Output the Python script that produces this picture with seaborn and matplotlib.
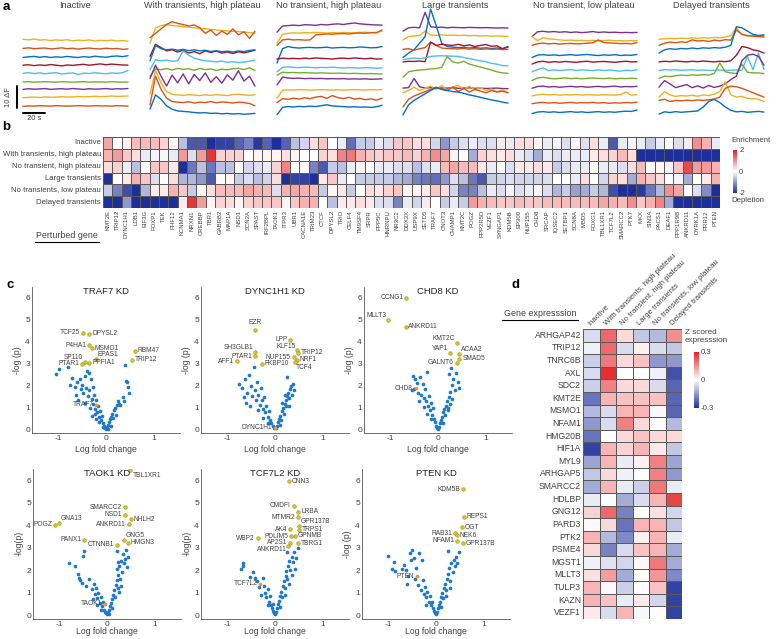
import numpy as np
import pandas as pd
import matplotlib
matplotlib.use("Agg")
import matplotlib.pyplot as plt
import seaborn as sns
from matplotlib.colors import LinearSegmentedColormap
from matplotlib.lines import Line2D

# ---------------- panel a: calcium traces (dF), sampled every 5 s ----------------
T = [0, 5, 10, 15, 20, 25, 30, 35, 40, 45, 50, 55, 60, 65, 70, 75, 80, 85, 90, 95]

A_TITLES = ["Inactive", "With transients, high plateau", "No transient, high plateau",
            "Large transients", "No transient, low plateau", "Delayed transients"]

INACTIVE = [
    [35.8, 35.5, 35.9, 35.4, 35.6, 35.2, 35.5, 35.3, 35.6, 35.1, 35.4, 35.2, 35.5, 35.0, 35.3, 35.1, 35.4, 35.0, 35.2, 34.9],
    [31.6, 31.9, 31.5, 31.7, 31.8, 31.4, 31.6, 31.9, 31.5, 31.7, 31.3, 31.6, 31.8, 31.5, 31.4, 31.7, 31.5, 31.6, 31.2, 31.4],
    [27.5, 27.8, 28.0, 27.6, 27.9, 27.5, 27.8, 27.6, 28.0, 27.7, 27.5, 27.9, 27.6, 28.1, 27.8, 27.6, 28.0, 28.2, 27.9, 28.3],
    [24.0, 24.2, 23.8, 24.1, 23.9, 24.3, 24.0, 23.7, 24.1, 23.9, 24.2, 24.4, 24.0, 24.3, 24.6, 24.2, 24.5, 24.3, 24.1, 24.0],
    [20.3, 20.6, 20.2, 20.5, 20.1, 20.4, 20.6, 20.0, 20.3, 20.5, 19.8, 20.4, 20.2, 20.6, 20.3, 20.1, 20.5, 20.3, 20.6, 21.6],
    [16.4, 16.5, 16.3, 16.4, 16.5, 16.4, 16.3, 16.5, 16.4, 16.3, 16.4, 16.5, 16.3, 16.4, 16.4, 16.3, 16.5, 16.4, 16.3, 16.4],
    [13.0, 13.3, 13.1, 13.2, 13.4, 13.0, 13.2, 13.3, 13.1, 13.4, 13.2, 13.0, 13.3, 13.1, 13.2, 13.4, 13.1, 13.3, 13.2, 13.4],
    [9.2, 9.4, 9.5, 9.3, 9.6, 9.4, 9.5, 9.7, 9.5, 9.6, 9.8, 9.6, 9.7, 9.9, 9.7, 9.8, 10.0, 9.8, 9.9, 10.0],
    [5.3, 5.5, 5.4, 5.6, 5.5, 5.4, 5.6, 5.5, 5.4, 5.5, 5.6, 5.5, 5.4, 5.6, 5.5, 5.5, 5.4, 5.6, 5.5, 5.4],
]
INACTIVE_C = ["y", "r", "b", "d", "c", "g", "p", "y", "r"]

WITH_TRANS = [
    [34, 41, 42, 42.5, 42, 41.8, 41.5, 41.3, 41, 40.8, 40.6, 40.2, 40, 39.8, 39.6, 39.4, 39.3, 39.1, 38.8, 38.5],
    [36.5, 38.5, 40.5, 42.5, 43.8, 43, 42.5, 41.8, 42.3, 41, 38.5, 40, 37.5, 39.5, 38, 40.5, 37.8, 39.2, 36.2, 39.5],
    [28, 33.5, 32, 30.5, 31, 30, 30.8, 29.5, 30.2, 29.2, 30.5, 29.8, 30.4, 29.5, 30, 29.3, 30.1, 29.6, 30.2, 30.8],
    [26, 33, 31.5, 31, 31.3, 30.8, 31.2, 30.6, 31, 30.5, 30.8, 30.2, 30.6, 30.1, 30.4, 30, 30.5, 30.2, 30.7, 31],
    [22, 26.5, 26, 26.3, 25.8, 26, 30.5, 28.5, 27.2, 26.5, 26, 25.8, 25.5, 25.9, 25.3, 25.6, 25.2, 25.4, 25.8, 26.3],
    [19, 22.3, 22, 22.5, 21.8, 22.6, 22.1, 22.4, 21.7, 22.5, 22, 22.3, 21.6, 22.2, 21.9, 22.4, 22.6, 22, 22.8, 21.6],
    [18, 24, 19, 14.5, 19.5, 16, 20, 15.5, 19.8, 17, 20.5, 16.2, 18.8, 15.8, 19.6, 17.2, 21.5, 16.8, 19, 14.5],
    [11, 21.5, 16, 12, 10.8, 10.5, 10.3, 10.6, 10.4, 10.2, 10.5, 10.3, 10.6, 10.4, 10.2, 10.6, 10.8, 10.5, 10.3, 10.6],
    [6, 19, 13, 9, 7.5, 7.2, 7, 7.4, 6.8, 7.2, 7, 7.5, 6.9, 7.3, 7.1, 6.8, 7.2, 7, 6.6, 5.5],
    [4, 10.5, 8.5, 5.5, 4, 3.2, 3, 2.8, 2.5, 2.3, 2.4, 2.1, 2.2, 1.9, 2.1, 1.8, 2, 1.7, 1.9, 2.1],
]
WITH_TRANS_C = ["y", "r", "d", "b", "c", "g", "p", "y", "r", "b"]

NO_TRANS_HIGH = [
    [39, 41.8, 42, 42.2, 42, 42.4, 42.3, 42.1, 42.5, 42.3, 42.6, 42.8, 42.5, 42.9, 43.2, 42.8, 42.6, 42.4, 42.3, 42.2],
    [34, 38, 38.5, 38.7, 38.6, 38.8, 38.7, 38.9, 38.8, 38.6, 38.8, 38.7, 38.9, 38.8, 38.7, 38.9, 39, 38.8, 39, 39.4],
    [33, 35.5, 35.8, 35.5, 35.6, 35.4, 35.5, 37.8, 38, 38.2, 38.1, 38.3, 38.4, 38.2, 38.5, 38.6, 38.5, 38.8, 38.7, 40],
    [25, 31.5, 32.5, 32, 31.8, 32, 32.1, 31.9, 32, 32.2, 31.8, 32, 32.1, 31.9, 32, 32.3, 32.1, 31.9, 32, 32.5],
    [26.8, 27.2, 27, 27.1, 26.9, 27.2, 27, 27.3, 27.1, 27, 26.8, 27.1, 27.2, 27, 27.3, 27.1, 26.9, 27.2, 26.8, 26.9],
    [21, 23, 23.2, 23, 22.9, 23.1, 23, 22.8, 23, 22.9, 23.1, 22.9, 22.7, 22.9, 22.8, 22.7, 22.9, 22.8, 22.6, 22.8],
    [19.5, 20.8, 20.6, 20.7, 20.5, 20.6, 20.5, 20.4, 20.5, 20.4, 20.3, 20.4, 20.3, 20.2, 20.3, 20.2, 20.1, 20.2, 20.1, 20.0],
    [15, 18.6, 18.2, 18, 18.1, 17.9, 18, 17.9, 18, 17.8, 17.9, 17.8, 17.9, 17.7, 17.8, 17.7, 17.8, 17.6, 17.7, 17.8],
    [9, 12.6, 12.8, 12.7, 12.9, 12.8, 12.7, 12.8, 12.9, 12.8, 12.7, 12.8, 12.7, 12.8, 12.9, 12.8, 12.7, 12.9, 12.8, 12.9],
    [7, 8.8, 8.5, 9, 8.6, 9.2, 8.8, 9.5, 9.8, 8.9, 10.2, 9.3, 8.8, 9.4, 8.6, 8.9, 8.3, 8.7, 8.1, 9.0],
    [1.5, 4.8, 5.2, 5, 5.3, 5.1, 5.4, 5.2, 5.6, 6, 5.5, 5.3, 5.2, 5, 5.1, 4.9, 5, 4.8, 5.1, 5.8],
]
NO_TRANS_HIGH_C = ["p", "y", "r", "b", "d", "c", "g", "p", "y", "r", "b"]

LARGE_TRANS = [
    [39.5, 41, 41.2, 41, 48, 41.5, 41.2, 41.3, 41, 41.2, 41.1, 41, 41.2, 41.1, 41, 41.1, 41, 40.9, 41, 40.9],
    [35.5, 37, 37.3, 37.5, 39.5, 37.8, 37.5, 37.8, 37.6, 37.7, 37.5, 37.6, 37.4, 37.5, 37.3, 37.4, 37.2, 37.3, 37.2, 37.1],
    [27.5, 29.5, 31, 34, 37, 49.5, 42, 34, 32.5, 32.2, 32, 32.1, 31.8, 32, 31.7, 31.9, 31.6, 31.8, 31.5, 32.5],
    [31.2, 31.5, 30.8, 31.5, 32, 34.5, 33, 31.8, 31.6, 31.5, 31.4, 31.6, 31.3, 31.5, 31.2, 31.4, 31.2, 31.3, 31.1, 31.2],
    [25.5, 25.8, 25.7, 25.9, 25.6, 34.5, 33, 33.5, 33.2, 33, 33.5, 32.8, 33.2, 32.5, 33, 33.4, 32.6, 32.8, 31.5, 32.2],
    [26.5, 27, 27.2, 27, 27.3, 28, 28.2, 28.3, 28.2, 28.1, 28, 27.5, 27, 26.5, 26, 25.6, 24.8, 24.5, 23.8, 23.8],
    [18.5, 21, 21.5, 21.8, 22, 22.3, 22.5, 23, 28, 25.5, 25, 25.8, 24.5, 23.8, 23.2, 22.5, 21.8, 21, 20.5, 20.3],
    [13.6, 13.8, 18, 14.2, 13.6, 13.8, 13.5, 13.7, 13.6, 13.8, 13.5, 13.6, 13.7, 13.5, 13.6, 13.4, 13.5, 13.6, 13.4, 13.3],
    [11.5, 12.5, 14, 12.5, 13.5, 14.5, 13, 14.8, 12.5, 14.2, 14.8, 13, 14.5, 12.8, 13.8, 12.5, 13.2, 12, 12.8, 11.5],
    [5, 8.5, 10, 11, 12, 13, 14, 13.2, 12.5, 14, 12, 13.5, 11.8, 13, 12.2, 11.5, 12.5, 11.8, 12.2, 11.5],
    [1.4, 6, 8, 9.5, 11, 12.5, 13.8, 13, 12.5, 12, 11.8, 11.2, 10.5, 10, 9.4, 8.8, 8.2, 7.8, 7.2, 6.8],
]
LARGE_TRANS_C = ["p", "y", "b", "r", "d", "c", "g", "p", "y", "r", "b"]

NO_TRANS_LOW = [
    [37, 39.2, 39.4, 39.1, 39.3, 39, 39.2, 38.9, 39.1, 38.8, 39, 39.3, 38.9, 39.1, 38.9, 39, 38.8, 38.9, 38.8, 38.9],
    [37, 35.2, 36.5, 36, 35.8, 35.5, 35.3, 35.4, 35.2, 35.3, 35.1, 35.3, 35.1, 35.2, 35.4, 35.1, 35.2, 35, 35.2, 35.1],
    [33, 33.8, 34, 33.7, 33.9, 33.6, 33.8, 33.9, 33.7, 33.8, 34, 34.2, 35.5, 34.3, 34.1, 34, 33.8, 33.9, 33.7, 34.3],
    [27.5, 28.6, 28.8, 28.5, 28.7, 28.4, 28.6, 28.8, 28.5, 28.7, 28.9, 28.6, 28.4, 28.7, 28.5, 28.8, 28.4, 28.6, 28.5, 28.9],
    [24.5, 25.5, 25.8, 25.3, 25.6, 25.4, 25.7, 25.5, 25.3, 25.6, 25.8, 25.4, 25.6, 25.7, 25.5, 25.3, 25.6, 25.8, 25.5, 25.6],
    [21, 22, 22.8, 21.5, 21.9, 21.6, 21.8, 22, 21.6, 21.9, 21.7, 21.5, 21.9, 21.6, 21.8, 21.5, 21.3, 21.7, 21.5, 21.9],
    [17, 18.2, 18.5, 18.1, 17.8, 18, 18.2, 17.9, 18.1, 17.8, 18, 18.2, 18, 17.9, 18.1, 17.8, 18, 17.9, 18.1, 17.9],
    [13.5, 14.3, 14.5, 14.1, 14.3, 14, 14.2, 14.4, 14.1, 14.3, 14, 14.2, 14.4, 14.1, 14.3, 14.5, 14.1, 14.3, 14.2, 14.4],
    [10, 10.6, 10.8, 10.5, 10.7, 10.4, 10.6, 10.5, 10.7, 10.4, 10.6, 10.5, 10.4, 10.6, 10.5, 10.4, 10.6, 11.8, 10.4, 10.6],
    [6.5, 6.9, 7.1, 6.8, 7, 6.7, 6.9, 7.1, 6.8, 7, 6.9, 7.1, 6.8, 7, 6.7, 6.9, 6.8, 7, 6.9, 7.2],
    [2, 2.7, 2.9, 2.6, 2.8, 2.5, 2.7, 2.9, 2.6, 2.8, 2.5, 2.7, 2.9, 2.6, 2.8, 2.6, 2.9, 3.1, 3, 3.6],
]
NO_TRANS_LOW_C = ["p", "y", "r", "b", "d", "c", "g", "p", "y", "r", "b"]

DELAYED = [
    [35.8, 36, 36.2, 36, 36.3, 36.1, 36.4, 36.2, 36.5, 36.3, 36.6, 36.5, 36.8, 37.5, 41, 38, 37.2, 37.4, 37, 37.3],
    [33, 34, 34.5, 34.2, 34.6, 34.4, 35.5, 35, 35.2, 34.8, 35.4, 35.1, 35.6, 35.4, 40, 38, 37.5, 37.2, 37, 36.8],
    [29.5, 31, 31.5, 31.2, 31.6, 31.4, 31.8, 31.5, 31.9, 31.7, 32, 31.8, 32.2, 33, 41.5, 41, 39.5, 38, 37.5, 37.8],
    [25.5, 25.8, 25.6, 25.9, 25.7, 25.5, 25.8, 25.6, 25.9, 25.7, 25.5, 25.8, 25.6, 26, 28.5, 32.5, 32, 31, 30.5, 29.5],
    [21.5, 22, 21.8, 21.9, 21.7, 21.8, 21.9, 21.7, 21.8, 21.6, 21.7, 21.8, 21.6, 21.7, 21.8, 21.6, 28, 22, 29.5, 22],
    [18, 19, 18.8, 19.2, 19.5, 19.3, 19.6, 19.4, 19.7, 19.5, 20.2, 25, 21, 20.5, 20.2, 24.5, 20.8, 20.5, 20.5, 20.2],
    [14, 17, 15.5, 13.8, 14.5, 15.2, 13.8, 14.6, 13.6, 14.8, 13.9, 14.5, 15.5, 17.5, 19, 26, 28.5, 29, 28, 24],
    [9.5, 12, 10.5, 9.8, 10.2, 10, 10.3, 9.9, 10.5, 10.2, 10.8, 12, 16.5, 10.5, 9.5, 9.8, 9, 8.8, 8.5, 7.5],
    [8, 8.5, 7.5, 8, 7.8, 8.1, 7.9, 8.2, 8, 8.3, 8.6, 9.5, 13.5, 14.5, 14.2, 13.5, 12.5, 11.5, 10.5, 9.5],
    [1.8, 2.8, 2.5, 2.9, 2.6, 2.8, 3, 3.2, 5, 7.5, 8.5, 7, 5, 3.5, 2.8, 3, 2.6, 2.8, 3, 2.7],
]
DELAYED_C = ["y", "r", "b", "d", "c", "g", "p", "y", "r", "b"]

TRACE_COLORS = {"b": "#0072BD", "r": "#D95319", "y": "#EDB120", "p": "#7E2F8E",
                "g": "#77AC30", "c": "#4DBEEE", "d": "#A2142F"}

# ---------------- panel b: enrichment heatmap ----------------
B_ROWS = ["Inactive", "With transients, high plateau", "No transient, high plateau",
          "Large transients", "No transients, low plateau", "Delayed transients"]
B_GENES = ["KMT2E", "TRIP12", "DYNC1H1", "LDB1", "EIF3G", "FOXP1", "TEK", "PHF12", "KCNMA1", "NRXN1",
           "CREBBP", "TBR1", "GABRB2", "MAP1A", "NSD1", "SCN2A", "SPAST", "IRF2BPL", "TAOK1", "ITPR3",
           "UBR1", "CACNA1E", "TRIM23", "CTCF", "DPYSL2", "TRIO", "CELF4", "TM9SF4", "SRPR", "PPP5C",
           "HNRNPU", "NR3C2", "DDX3X", "USP9X", "SETD5", "TRAF7", "CNOT3", "CHAMP1", "KMT2C", "POGZ",
           "PPP2R5D", "VEZF1", "SYNGAP1", "KDM5B", "EP300", "NUP155", "CHD8", "SRCAP", "IQSEC2", "SETBP1",
           "SCN8A", "MBD5", "FOXG1", "TBL1XR1", "TCF7L2", "SMARCC2", "PTK7", "MKX", "SIN3A", "PACS1",
           "DEAF1", "PPP1R9B", "ANKRD11", "DYRK1A", "PRR12", "PTEN"]
B_INACTIVE = [0.8, 0, 0.1, 0.6, 0.6, 0.6, 0.4, 0.1, -0.6, -1.6, -1.6, -2, -1.8, -1.8, -1.5, -1.2,
              -1.9, -1.5, -2, -1.5, -0.6, -0.4, 0.3, 0.5, 0, -0.2, -1.4, -0.5, -0.5, -0.2, -0.3, 0.5,
              0.5, 0.3, 0.3, -0.4, -1.0, -0.5, -0.3, -0.2, -0.3, -0.3, 0.2, -0.2, 0.3, 0.3, 0.1, -0.2,
              -0.1, -0.3, 0.1, -0.3, 0.3, -0.2, -1.6, -0.2, -0.1, -0.2, -0.5, -0.2, 0, -0.3, 0.2, 1.0, 0.7, -0.2]
B_WITH_TRANS = [0.7, 0.9, 0.5, 0.3, -0.2, -0.1, -0.1, -0.2, 0.9, -0.3, 0.9, 1.8, 0.4, 0.4, 0.4, 0,
                0.1, 0.1, 0.1, 0.3, 0.1, 0, 0, 0.4, 0.3, 1.1, 1.2, 0.7, 0.5, 0.4, 0.5, 0.5,
                0.6, 0.4, 0.7, 1.0, 0.8, 0.1, 0, -0.8, 0.4, 0.3, 0.2, 0.3, -0.2, -0.3, -0.8, -0.2,
                -0.3, -0.2, -0.2, -0.2, 0.2, 0.3, 0.4, 0.6, 0.3, -2, -2, -2, -2, -2, -2, -2, -2, -2]
B_NO_TRANS_HIGH = [0.3, 0.4, -0.2, -0.6, 0, 0.5, 0.5, 0.2, -2, -1.3, -0.6, -1.3, -0.6, -0.6, 0, -0.4,
                   -0.3, -0.2, 0.4, 1.1, 0, 0, -1.2, -1.6, -0.5, -0.6, -0.2, 0.1, 0, -0.2, -0.2, -0.3,
                   -0.3, -0.6, -0.3, -0.2, 0.6, 0.8, 0.6, 0.6, 0.2, -0.2, 0, -0.3, 0.2, 0.2, 0.3, 0.2,
                   -0.5, -0.3, -0.2, -0.2, 0, -0.2, -0.2, -0.3, 0.3, 0.6, 0, 0.1, -0.1, 0.5, 1.6, 0.9, 0.9, 0.7]
B_LARGE_TRANS = [-2, 0, 0.2, 0.7, 0.5, -0.3, 0, 0.3, -0.7, -0.7, -1.0, -1.6, 0, 0.1, -0.5, -0.3,
                 -0.6, -0.4, 0.3, -2, -1.8, -1.8, -2, 0.2, 0.5, -0.2, 0, -0.5, -0.5, -0.5, -0.5, -0.7,
                 -0.8, -1.2, -1.3, -1.4, -1.0, -0.3, -0.6, -1.3, -1.6, -0.5, -0.4, -0.3, -0.4, -0.4, -0.4, -0.3,
                 0, 0, -0.2, 0.3, 0, -0.4, 0.4, 0.3, -0.8, 0.7, 0.5, 0.3, 0, -0.1, -0.8, 0, 0.2, 0.7]
B_NO_TRANS_LOW = [-0.5, -1.2, -1.7, -2, -0.7, 0.2, 0.2, 0.7, 0.5, -0.5, 0.1, 0.3, 0.6, 0.6, 0.6, 0.8,
                  0.7, 0.6, -0.3, 0.7, 0.8, 0.7, 0.6, -0.5, 0.1, 0.2, -0.5, 0, 0.3, 0.2, 0.4, 0.5,
                  0.1, 0.1, 0.2, 0.5, 0.3, -0.4, -1.2, -1.2, -0.6, -0.2, -0.3, -0.1, -0.3, -0.2, -0.1, -0.3,
                  -0.7, -0.5, -0.9, -0.8, -0.5, -0.7, -1.7, -2, -2, -1.9, -1.3, -0.7, 1.0, 0.8, 0, -0.3, -1.1, -2]
B_DELAYED = [-2, -2, -1.0, -2, -2, -2, -2, -2, 0.2, 1.8, 0.9, 0.1, 0.4, 0.3, 0.1, 0.4,
             0.5, 0.5, 0.5, 0.1, 0.5, 0.7, 0.7, 0, -0.6, 0.2, 0.2, 0.3, 0.2, -0.3, -0.3, -1.2,
             -0.2, -0.4, 0.2, 0, -0.5, -0.2, -0.5, 0.9, 0.7, 0.6, 0.5, 0.5, 0.6, 0.5, 0.5, 0.6,
             0.6, 0.6, 0.6, 0.6, 0.6, 0.8, 0.7, 0.6, 1.0, 0.5, 0.7, 1.1, -0.8, -2, -2, -2, -2, -2]

# ---------------- panel c: volcano plots (log fold change, -log p) ----------------
TRAF7_PTS = [(-1.05, 2.55), (-0.98, 2.78), (-0.8, 2.85), (-0.75, 2.05), (-0.72, 2.35), (-0.65, 1.95),
             (-0.6, 2.2), (-0.55, 2.3), (-0.52, 1.85), (-0.5, 2.05), (-0.48, 1.7), (-0.45, 2.45),
             (-0.42, 1.9), (-0.4, 2.7), (-0.38, 1.55), (-0.36, 2.6), (-0.35, 1.8), (-0.32, 2.3),
             (-0.3, 1.4), (-0.28, 1.95), (-0.27, 1.2), (-0.25, 1.6), (-0.22, 0.95), (-0.2, 1.35),
             (-0.18, 0.8), (-0.16, 1.1), (-0.14, 0.6), (-0.12, 0.85), (-0.1, 0.45), (-0.08, 0.65),
             (-0.06, 0.3), (-0.04, 0.2), (-0.02, 0.1), (0, 0.05), (0.02, 0.12), (0.04, 0.25),
             (0.06, 0.35), (0.08, 0.5), (0.1, 0.6), (0.12, 0.75), (0.14, 0.55), (0.16, 0.9),
             (0.18, 1.0), (0.2, 0.7), (0.22, 1.15), (0.25, 1.3), (0.28, 1.2), (0.3, 1.15),
             (0.35, 1.5), (0.38, 1.3), (0.4, 2.95), (0.42, 2.25), (0.45, 2.2), (0.47, 1.95),
             (0.48, 1.7), (-0.62, 1.6), (-0.58, 1.35), (-0.44, 1.25), (-0.33, 1.0), (-0.24, 0.75),
             (-0.15, 0.35), (-0.07, 0.15), (0.05, 0.05), (0.1, 0.2), (-0.3, 0.65), (-0.2, 0.5)]
TRAF7_HITS = [("TCF25", -0.48, 4.42), ("DPYSL2", -0.35, 4.38), ("P4HA1", -0.35, 3.85),
              ("MSMO1", -0.3, 3.72), ("SP110", -0.45, 3.1), ("EPAS1", -0.2, 3.25),
              ("PTAR1", -0.5, 3.02), ("PPFIA1", -0.35, 3.05), ("RBM47", 0.6, 3.6), ("TRIP12", 0.55, 3.2)]
TRAF7_SIDE = ["l", "r", "l", "r", "ul", "ur", "l", "r", "r", "r"]
TRAF7_KD = ("TRAF7", -0.2, 1.15)

DYNC_PTS = [(-0.75, 2.1), (-0.7, 1.9), (-0.62, 2.3), (-0.58, 1.7), (-0.55, 2.5), (-0.5, 2.0),
            (-0.48, 1.55), (-0.45, 2.85), (-0.42, 1.8), (-0.4, 1.35), (-0.38, 2.2), (-0.35, 1.6),
            (-0.32, 1.15), (-0.3, 1.9), (-0.28, 1.35), (-0.25, 0.95), (-0.22, 1.5), (-0.2, 0.8),
            (-0.18, 1.1), (-0.15, 0.6), (-0.12, 0.85), (-0.1, 0.45), (-0.08, 0.3), (-0.05, 0.2),
            (-0.03, 0.1), (0.02, 0.08), (0.04, 0.2), (0.06, 0.35), (0.08, 0.5), (0.1, 0.65),
            (0.12, 0.45), (0.14, 0.85), (0.16, 1.0), (0.18, 0.75), (0.2, 1.2), (0.22, 1.35),
            (0.24, 1.1), (0.26, 1.55), (0.28, 1.7), (0.3, 1.45), (0.32, 1.85), (0.34, 2.0),
            (0.36, 1.6), (0.38, 2.1), (0.26, 2.4), (0.2, 1.6), (0.15, 1.25), (-0.65, 1.5),
            (-0.6, 1.25), (-0.52, 1.1), (-0.35, 0.9), (-0.25, 0.55), (-0.15, 0.3), (0.1, 0.25),
            (0.3, 1.1), (0.4, 1.8)]
DYNC_HITS = [("EZR", -0.41, 4.55), ("SH3GLB1", -0.42, 3.55), ("PTAR1", -0.42, 3.35), ("AFF1", -0.8, 3.12),
             ("FKBP10", -0.27, 3.02), ("LPP", 0.32, 4.1), ("KLF15", 0.47, 3.62), ("TRIP12", 0.49, 3.52),
             ("NUP155", 0.39, 3.3), ("NRF1", 0.46, 3.2), ("TCF4", 0.41, 3.08)]
DYNC_SIDE = ["t", "ul", "l", "l", "r", "l", "ul", "r", "l", "r", "b"]
DYNC_KD = ("DYNC1H1", 0.0, 0.1)

CHD8_PTS = [(-0.52, 2.45), (-0.48, 2.3), (-0.45, 2.15), (-0.42, 1.7), (-0.38, 2.4), (-0.35, 1.6),
            (-0.32, 2.1), (-0.3, 1.45), (-0.28, 1.85), (-0.25, 1.3), (-0.22, 2.65), (-0.2, 1.1),
            (-0.18, 1.55), (-0.16, 0.9), (-0.14, 1.25), (-0.12, 0.7), (-0.1, 1.0), (-0.08, 0.5),
            (-0.06, 0.35), (-0.04, 0.2), (-0.02, 0.1), (0, 0.05), (0.02, 0.15), (0.04, 0.3),
            (0.06, 0.45), (0.08, 0.6), (0.1, 0.8), (0.12, 0.95), (0.14, 0.7), (0.16, 1.1),
            (0.18, 1.3), (0.2, 1.0), (0.22, 1.5), (0.24, 2.55), (0.26, 1.75), (0.28, 2.8),
            (0.3, 2.05), (0.32, 2.3), (0.35, 1.8), (0.38, 2.6), (0.42, 2.2), (0.45, 1.9),
            (0.3, 1.4), (0.2, 0.9), (-0.3, 1.05), (-0.4, 1.3), (-0.5, 1.85), (-0.55, 1.8),
            (-0.15, 0.5), (0.1, 0.3), (-0.22, 0.75), (0.25, 1.2)]
CHD8_HITS = [("CCNG1", -0.66, 6.0), ("MLLT3", -1.05, 5.0), ("ANKRD11", -0.68, 4.7), ("KMT2C", 0.39, 3.97),
             ("YAP1", 0.25, 3.5), ("ACAA2", 0.45, 3.45), ("SMAD5", 0.45, 3.25), ("GALNT6", 0.39, 3.05)]
CHD8_SIDE = ["l", "ul", "r", "ul", "ul", "ur", "r", "l"]
CHD8_KD = ("CHD8", -0.47, 1.9)

TAOK1_PTS = [(-0.8, 2.3), (-0.68, 2.2), (-0.6, 1.85), (-0.58, 1.65), (-0.56, 1.55), (-0.52, 1.45),
             (-0.5, 2.65), (-0.48, 2.85), (-0.45, 1.3), (-0.38, 1.6), (-0.32, 1.15), (-0.28, 1.4),
             (-0.25, 0.95), (-0.22, 1.2), (-0.2, 0.75), (-0.18, 1.0), (-0.15, 0.55), (-0.12, 0.8),
             (-0.1, 0.4), (-0.08, 0.6), (-0.06, 0.25), (-0.04, 0.15), (-0.02, 0.08), (0, 0.05),
             (0.02, 0.12), (0.04, 0.25), (0.06, 0.4), (0.08, 0.55), (0.1, 0.7), (0.12, 0.9),
             (0.14, 1.1), (0.16, 0.8), (0.18, 1.35), (0.2, 1.55), (0.2, 2.05), (0.22, 1.2),
             (0.24, 1.8), (0.26, 2.2), (0.28, 1.6), (0.3, 2.4), (0.32, 1.9), (0.34, 2.7),
             (0.36, 2.3), (0.38, 2.5), (0.4, 2.9), (0.45, 2.6), (0.42, 2.15), (0.3, 1.3),
             (0.25, 1.05), (-0.3, 0.7), (-0.2, 0.45), (-0.12, 0.25), (0.1, 0.3), (0.05, 0.05),
             (0.2, 2.85), (0.22, 2.35)]
TAOK1_HITS = [("TBL1XR1", 0.48, 6.45), ("SMARCC2", 0.375, 4.8), ("NSD1", 0.38, 4.47), ("NHLH2", 0.5, 4.27),
              ("ANKRD11", 0.46, 4.04), ("GNG5", 0.36, 3.36), ("HMGN3", 0.44, 3.21), ("CTNNB1", 0.2, 3.12),
              ("PANX1", -0.48, 3.35), ("GNA13", -1.01, 4.09), ("POGZ", -1.08, 4.03)]
TAOK1_SIDE = ["br", "l", "l", "r", "l", "ur", "r", "l", "l", "ur", "l"]
TAOK1_KD = ("TAOK1", -0.04, 0.5)

TCF_PTS = [(-0.72, 2.05), (-0.68, 2.2), (-0.66, 2.3), (-0.52, 1.7), (-0.46, 1.9), (-0.42, 1.65),
           (-0.38, 1.5), (-0.34, 1.25), (-0.25, 1.65), (-0.22, 1.3), (-0.2, 1.0), (-0.18, 0.8),
           (-0.15, 1.15), (-0.12, 0.6), (-0.1, 0.85), (-0.08, 0.45), (-0.06, 0.3), (-0.04, 0.2),
           (-0.02, 0.1), (0, 0.05), (0.02, 0.15), (0.04, 0.3), (0.06, 0.5), (0.08, 0.65),
           (0.1, 0.85), (0.12, 1.05), (0.14, 0.8), (0.16, 1.3), (0.18, 1.5), (0.2, 1.2),
           (0.22, 1.75), (0.24, 1.95), (0.26, 1.6), (0.28, 2.2), (0.3, 2.4), (0.32, 2.0),
           (0.35, 2.6), (0.38, 2.35), (0.4, 2.8), (0.45, 2.55), (0.48, 3.0), (0.42, 2.05),
           (0.3, 1.4), (0.2, 0.9), (-0.3, 0.9), (-0.15, 0.45), (0.1, 0.35), (-0.05, 0.5),
           (0.25, 2.8), (0.36, 1.8)]
TCF_HITS = [("CNN3", 0.29, 5.95), ("CMDFI", 0.39, 4.87), ("LRBA", 0.49, 4.6), ("MTMR2", 0.48, 4.35),
            ("GPR137B", 0.51, 3.98), ("TRPS1", 0.51, 3.8), ("AK4", 0.31, 3.82), ("GPNMB", 0.42, 3.52),
            ("PDLIM5", 0.33, 3.5), ("AP2S1", 0.31, 3.22), ("ANKRD11", 0.27, 3.06), ("TBRG1", 0.48, 3.2),
            ("WBP2", -0.36, 3.43)]
TCF_SIDE = ["r", "l", "r", "l", "ur", "r", "l", "r", "l", "l", "lb", "r", "l"]
TCF_KD = ("TCF7L2", -0.31, 1.4)

PTEN_PTS = [(-1.0, 2.65), (-0.92, 2.05), (-0.88, 2.35), (-0.85, 1.95), (-0.72, 2.05), (-0.66, 2.25),
            (-0.62, 2.0), (-0.58, 1.75), (-0.55, 2.75), (-0.52, 2.45), (-0.5, 2.9), (-0.46, 2.55),
            (-0.42, 2.1), (-0.38, 1.35), (-0.35, 2.75), (-0.3, 2.45), (-0.32, 1.1), (-0.28, 1.55),
            (-0.25, 0.95), (-0.22, 1.25), (-0.2, 0.8), (-0.18, 1.05), (-0.15, 0.6), (-0.12, 0.85),
            (-0.1, 0.45), (-0.08, 0.6), (-0.06, 0.3), (-0.04, 0.2), (-0.02, 0.1), (0, 0.05),
            (0.02, 0.15), (0.04, 0.3), (0.06, 0.45), (0.08, 0.6), (0.1, 0.8), (0.12, 1.0),
            (0.14, 0.75), (0.16, 1.2), (0.18, 1.4), (0.2, 1.1), (0.22, 1.6), (0.25, 1.85),
            (0.28, 2.1), (0.3, 1.5), (0.32, 2.3), (0.35, 1.9), (0.38, 2.45), (0.4, 2.2),
            (0.42, 2.6), (0.45, 2.3), (0.48, 2.8), (0.3, 1.2), (0.2, 0.85), (-0.45, 1.6),
            (-0.6, 1.4), (-0.2, 0.45), (0.1, 0.35), (0.26, 2.85)]
PTEN_HITS = [("KDM5B", 0.56, 5.6), ("REPS1", 0.58, 4.38), ("OGT", 0.54, 3.9), ("RAB31", 0.39, 3.64),
             ("NEK6", 0.43, 3.55), ("NFAM1", 0.44, 3.3), ("GPR137B", 0.57, 3.2)]
PTEN_SIDE = ["l", "r", "r", "l", "r", "l", "r"]
PTEN_KD = ("PTEN", -0.4, 1.72)

# ---------------- panel d: z scored expression ----------------
D_COLS = ["Inactive", "With transients, high plateau", "No transient, high plateau",
          "Large transients", "No transients, low plateau", "Delayed transients"]
D_GENES = ["ARHGAP42", "TRIP12", "TNRC6B", "AXL", "SDC2", "KMT2E", "MSMO1", "NFAM1", "HMG20B", "HIF1A",
           "MYL9", "ARHGAP5", "SMARCC2", "HDLBP", "GNG12", "PARD3", "PTK2", "PSME4", "MGST1", "MLLT3",
           "TULP3", "KAZN", "VEZF1"]
D_VALUES = [
    [-0.05, 0.2, 0.05, -0.08, -0.1, 0.15],
    [-0.02, 0.2, -0.05, 0.02, -0.05, -0.08],
    [-0.07, 0.18, 0.05, 0.08, -0.15, -0.15],
    [-0.05, 0.28, 0, 0, -0.02, -0.25],
    [-0.07, 0.17, 0.05, 0.05, -0.05, -0.22],
    [-0.2, 0.1, 0.08, 0.08, 0.08, -0.22],
    [-0.1, -0.05, 0.1, 0.1, -0.01, -0.22],
    [-0.15, -0.05, 0.17, 0.05, 0, -0.1],
    [-0.2, 0, 0.05, 0.08, 0.05, 0.05],
    [-0.27, 0.1, 0.06, 0.1, 0.03, -0.08],
    [-0.13, 0.1, -0.03, 0.02, 0.17, -0.13],
    [-0.08, 0.05, -0.02, 0, 0.17, -0.15],
    [-0.12, 0.1, -0.03, -0.07, 0.18, -0.03],
    [-0.03, 0, -0.12, -0.05, 0.1, 0.25],
    [0.06, 0.2, -0.18, 0, 0.04, -0.06],
    [0.01, 0.05, -0.2, 0.1, 0.1, -0.08],
    [0.1, -0.1, -0.17, 0.02, 0.1, -0.03],
    [0.05, -0.18, -0.05, 0.08, 0.1, -0.12],
    [-0.02, -0.04, -0.06, 0.01, 0.18, -0.12],
    [0.04, 0.13, -0.12, 0, 0.14, -0.17],
    [0.1, 0.01, -0.07, 0, 0.08, -0.27],
    [0.1, 0.08, -0.03, 0.03, -0.06, -0.27],
    [0.03, -0.05, 0.1, -0.01, 0, -0.27],
]

W, H = 779, 639
TXT = "#404040"


def rect(x0, y0, x1, y1):
    # pixel box (top-left origin) -> figure fraction
    return [x0 / W, 1 - y1 / H, (x1 - x0) / W, (y1 - y0) / H]


def ftext(x, y, s, **kw):
    kw.setdefault("color", TXT)
    return fig.text(x / W, 1 - y / H, s, **kw)


def fline(x0, x1, y0, y1, **kw):
    fig.add_artist(Line2D([x0 / W, x1 / W], [1 - y0 / H, 1 - y1 / H], transform=fig.transFigure, **kw))


OFFS = {"l": (-2, 0, "right", "center"), "r": (2, 0, "left", "center"),
        "ul": (-1, 0.5, "right", "bottom"), "ur": (1, 0.5, "left", "bottom"),
        "lb": (-1, 0, "right", "top"),
        "t": (0, 2.5, "center", "bottom"), "b": (1, -1.5, "left", "top"),
        "br": (2, -1.5, "left", "top")}


def volcano(ax, title, pts, hits, sides, kd, ylab, label_px):
    df = pd.DataFrame(pts, columns=["lfc", "nlp"])
    sns.scatterplot(data=df, x="lfc", y="nlp", color="#1f78c8", s=7, linewidth=0, ax=ax, zorder=2)
    hx = [h[1] for h in hits]
    hy = [h[2] for h in hits]
    sns.scatterplot(x=hx, y=hy, color="#d9c41c", edgecolor="#8c7d10", linewidth=0.3, s=7, ax=ax, zorder=3)
    ax.scatter([kd[1]], [kd[2]], color="#ff8f1f", s=7, linewidth=0, zorder=4)
    for (name, x, y), sd in zip(hits, sides):
        dx, dy, ha, va = OFFS[sd]
        ax.annotate(name, (x, y), xytext=(dx, dy), textcoords="offset points",
                    ha=ha, va=va, fontsize=4.8, color=TXT)
    ax.annotate(kd[0], (kd[1], kd[2]), xytext=(-2, 0), textcoords="offset points",
                ha="right", va="center", fontsize=4.8, color=TXT)
    ax.set_xlim(-1.55, 1.55)
    ax.set_ylim(-0.15, 6.5)
    ax.set_xticks([-1, 0, 1])
    ax.set_yticks([0, 1, 2, 3, 4, 5, 6])
    ax.tick_params(direction="in", length=2.5, width=0.6, labelsize=6, colors=TXT, pad=1.5)
    for s in ["top", "right"]:
        ax.spines[s].set_visible(False)
    for s in ["left", "bottom"]:
        ax.spines[s].set_linewidth(0.6)
        ax.spines[s].set_color("#555555")
    ax.set_xlabel("Log fold change", fontsize=6.2, color=TXT)
    ax.xaxis.label.set_va("center")
    ax.xaxis.set_label_coords(0.5, -label_px / ax.bbox.height * fig.dpi / 100)
    ax.set_ylabel(ylab, fontsize=6.2, color=TXT, labelpad=2)
    ax.text(0.5, 0.97, title, transform=ax.transAxes, ha="center", va="center", fontsize=6.8, color="#222222")


sns.set_style("white")
plt.rcParams["font.family"] = ["Liberation Sans", "DejaVu Sans"]
plt.rcParams["axes.unicode_minus"] = False

fig = plt.figure(figsize=(7.79, 6.39), dpi=100)

cmap = LinearSegmentedColormap.from_list("bwr_m", ["#1e2f9a", "#ffffff", "#e41f22"])

# ---- a ----
groups = [(INACTIVE, INACTIVE_C), (WITH_TRANS, WITH_TRANS_C), (NO_TRANS_HIGH, NO_TRANS_HIGH_C),
          (LARGE_TRANS, LARGE_TRANS_C), (NO_TRANS_LOW, NO_TRANS_LOW_C), (DELAYED, DELAYED_C)]
A_X0 = [23, 150, 277, 403, 532, 659]
for (traces, cols), title, x0 in zip(groups, A_TITLES, A_X0):
    ax = fig.add_axes(rect(x0, 19, x0 + 105, 118))
    for tr, c in zip(traces, cols):
        sns.lineplot(x=T, y=tr, color=TRACE_COLORS[c], lw=1.0, ax=ax, clip_on=False)
    ax.set_xlim(0, 95)
    ax.set_ylim(0, 45)
    ax.axis("off")
    ftext(x0 + 52, 6, title, ha="center", va="center", fontsize=6.6)
    if x0 == A_X0[0]:
        # scale bars: 10 dF and 20 s
        ax.plot([-5.5, -5.5], [4.5, 14.5], color="black", lw=1.4, clip_on=False)
        ax.plot([0, 20], [2.3, 2.3], color="black", lw=1.4, clip_on=False)
ftext(9, 97, "10 ΔF", rotation=90, ha="center", va="center", fontsize=5.5)
ftext(34, 119, "20 s", ha="center", va="center", fontsize=5.5)

# ---- b ----
bdf = pd.DataFrame([B_INACTIVE, B_WITH_TRANS, B_NO_TRANS_HIGH, B_LARGE_TRANS, B_NO_TRANS_LOW, B_DELAYED],
                   index=B_ROWS, columns=B_GENES)
axb = fig.add_axes(rect(103, 137, 720, 208))
caxb = fig.add_axes(rect(733, 150, 737, 193))
sns.heatmap(bdf, cmap=cmap, vmin=-2, vmax=2, linewidths=0.5, linecolor="#5a5a5a", ax=axb, cbar_ax=caxb,
            xticklabels=True, yticklabels=True)
axb.set_xticklabels(B_GENES, rotation=90, fontsize=4.3, color=TXT)
axb.set_yticklabels(B_ROWS, rotation=0, fontsize=5.6, color=TXT)
axb.tick_params(length=0, pad=1.5)
axb.set_xlabel("")
axb.set_ylabel("")
caxb.set_yticks([-2, 0, 2])
caxb.set_yticklabels(["-2", "0", "2"])
caxb.tick_params(labelsize=5.5, length=0, pad=1.5, colors=TXT)
ftext(731, 140, "Enrichment", ha="left", va="center", fontsize=5.6)
ftext(731, 201, "Depletion", ha="left", va="center", fontsize=5.6)
ftext(67, 235, "Perturbed gene", ha="center", va="center", fontsize=6.4)
fline(35, 99, 242, 242, color="black", lw=0.8)

# ---- c ----
top_y = (287, 433.3)
bot_y = (469, 618.5)
volcano(fig.add_axes(rect(32, top_y[0], 180, top_y[1])), "TRAF7 KD", TRAF7_PTS, TRAF7_HITS, TRAF7_SIDE, TRAF7_KD, "-log (p)", 16)
volcano(fig.add_axes(rect(201, top_y[0], 349, top_y[1])), "DYNC1H1 KD", DYNC_PTS, DYNC_HITS, DYNC_SIDE, DYNC_KD, "-log (p)", 16)
volcano(fig.add_axes(rect(364, top_y[0], 512, top_y[1])), "CHD8 KD", CHD8_PTS, CHD8_HITS, CHD8_SIDE, CHD8_KD, "-log (p)", 16)
volcano(fig.add_axes(rect(33, bot_y[0], 181, bot_y[1])), "TAOK1 KD", TAOK1_PTS, TAOK1_HITS, TAOK1_SIDE, TAOK1_KD, "-log(p)", 13.5)
volcano(fig.add_axes(rect(201, bot_y[0], 349, bot_y[1])), "TCF7L2 KD", TCF_PTS, TCF_HITS, TCF_SIDE, TCF_KD, "-log(p)", 13.5)
volcano(fig.add_axes(rect(362, bot_y[0], 510, bot_y[1])), "PTEN KD", PTEN_PTS, PTEN_HITS, PTEN_SIDE, PTEN_KD, "-log (p)", 13.5)

# ---- d ----
ddf = pd.DataFrame(D_VALUES, index=D_GENES, columns=D_COLS)
axd = fig.add_axes(rect(583, 329, 682, 619))
caxd = fig.add_axes(rect(694, 352, 699, 408))
sns.heatmap(ddf, cmap=cmap, vmin=-0.3, vmax=0.3, linewidths=0.5, linecolor="#5a5a5a", ax=axd, cbar_ax=caxd,
            xticklabels=True, yticklabels=True)
axd.xaxis.tick_top()
axd.set_xticklabels(D_COLS, rotation=45, ha="left", va="bottom", rotation_mode="anchor", fontsize=5.6, color=TXT)
axd.set_yticklabels(D_GENES, rotation=0, fontsize=6.2, color=TXT)
axd.tick_params(length=0, pad=1.5)
axd.set_xlabel("")
axd.set_ylabel("")
caxd.set_yticks([-0.3, 0, 0.3])
caxd.set_yticklabels(["-0.3", "0", "0.3"])
caxd.tick_params(labelsize=5.6, length=0, pad=1.5, colors=TXT)
ftext(685, 336, "Z scored\nexpresssion", ha="left", va="center", fontsize=5.9, linespacing=1.2)
ftext(540, 313, "Gene expresssion", ha="center", va="center", fontsize=6.4)
fline(502, 578, 320, 320, color="black", lw=0.8)

# panel letters
for lt, x, y in [("a", 6, 7), ("b", 6, 127), ("c", 10, 285), ("d", 516, 285)]:
    ftext(x, y, lt, ha="center", va="center", fontsize=9.5, fontweight="bold", color="black")

fig.savefig("out.png", dpi=100)
